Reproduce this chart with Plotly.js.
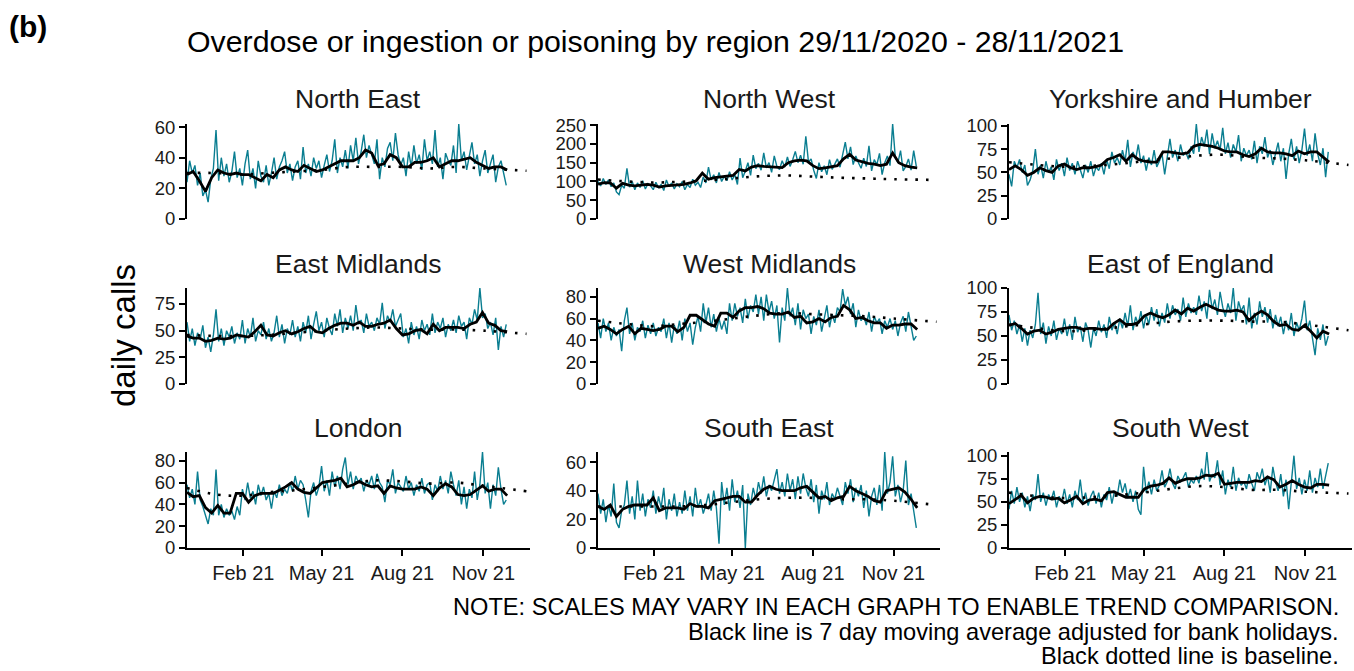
<!DOCTYPE html>
<html>
<head>
<meta charset="utf-8">
<script src="https://cdn.plot.ly/plotly-3.0.1.min.js"></script>
<style>
html, body { margin: 0; padding: 0; background: #ffffff; }
#chart { width: 1354px; height: 671px; }
</style>
</head>
<body>
<div id="chart"></div>
<script>
// ---------------- DATA ----------------
const startDate = '2020-11-29';
const regionNames = ['North East', 'North West', 'Yorkshire and Humber',
  'East Midlands', 'West Midlands', 'East of England',
  'London', 'South East', 'South West'];

const tickDates = ['2021-02-01', '2021-05-01', '2021-08-01', '2021-11-01'];
const tickLabels = ['Feb 21', 'May 21', 'Aug 21', 'Nov 21'];

// baseline reading dates (monthly)
const baseDates = ['2020-11-29', '2021-01-01', '2021-02-01', '2021-03-01', '2021-04-01',
  '2021-05-01', '2021-06-01', '2021-07-01', '2021-08-01', '2021-09-01',
  '2021-10-01', '2021-11-01', '2021-12-20'];

// daily calls, read every 3rd day from 29/11/2020
const neDaily = [24,38,30,35,22,30,15,19,11,26,33,
  58,25,40,28,36,24,31,44,27,33,
  22,36,45,26,33,20,38,28,24,35,
  22,30,40,26,34,38,44,30,36,25,
  34,38,26,47,30,36,28,40,33,38,
  27,35,42,31,38,52,30,40,34,45,
  33,48,38,53,36,44,55,40,48,42,
  36,52,26,40,34,46,50,38,56,42,35,
  40,28,44,34,48,36,42,32,52,38,
  44,36,58,34,40,26,43,38,35,48,
  30,62,38,44,32,40,50,36,42,28,
  38,45,30,36,42,24,34,38,30,22];
const nwDaily = [100,88,108,92,104,86,96,72,65,90,82,
  135,85,100,78,96,84,102,80,94,88,
  78,98,84,92,76,104,86,96,80,94,
  86,100,78,92,84,106,90,98,84,112,
  96,138,104,118,96,124,100,114,102,126,
  104,118,92,162,110,128,150,116,170,134,
  148,130,176,136,150,124,168,140,132,155,
  138,165,140,158,180,150,170,146,220,152,160,
  130,108,150,126,142,118,158,132,146,160,
  138,170,205,160,192,145,168,150,135,162,
  140,195,128,158,145,175,118,150,168,142,
  253,165,150,182,128,140,160,130,182,140];
const yhDaily = [48,35,62,55,64,50,58,36,42,52,75,
  48,58,44,62,50,56,42,64,52,60,
  46,66,52,60,48,62,54,44,58,50,
  62,46,56,52,60,48,64,54,72,60,
  66,58,74,62,85,56,72,64,80,60,
  68,52,66,58,74,56,62,70,48,66,
  86,66,74,62,80,68,72,64,78,70,
  102,72,88,78,96,70,92,76,84,74,98,
  70,82,66,80,72,90,62,76,68,74,
  64,84,60,78,70,88,66,74,58,72,
  82,62,76,43,70,86,64,78,60,74,
  97,68,80,62,92,70,58,76,45,72];
const emDaily = [58,40,52,36,48,42,55,34,44,30,46,
  70,40,52,36,50,44,54,38,48,42,
  60,38,52,44,62,40,50,46,58,42,
  52,40,48,64,44,56,38,52,46,60,
  44,54,40,58,48,64,42,56,68,50,
  58,44,62,52,46,66,54,70,48,62,
  52,64,50,74,56,60,48,66,54,58,
  50,62,56,76,52,64,58,70,54,60,66,
  44,52,38,58,46,54,42,60,50,56,
  46,66,48,58,52,62,44,56,50,60,
  48,64,54,58,42,62,56,70,60,90,
  62,66,52,58,46,62,32,54,44,56];
const wmDaily = [56,42,60,48,56,40,52,44,50,30,58,
  70,46,56,40,52,48,58,42,54,46,
  56,44,52,48,60,42,56,38,54,46,
  58,40,60,48,56,36,52,62,48,74,
  56,70,52,64,48,60,50,58,46,74,
  58,74,62,70,56,78,60,72,66,82,
  64,80,58,82,66,76,60,72,38,70,
  58,88,62,70,54,74,50,68,60,64,46,
  62,54,68,48,60,72,52,64,56,70,
  66,87,72,80,64,74,52,68,58,62,
  54,66,48,62,56,60,46,58,52,60,
  50,58,44,56,62,48,66,52,40,44];
const eeDaily = [72,56,66,52,62,44,58,40,56,48,62,
  95,52,64,42,60,50,66,46,58,52,
  68,50,62,46,70,54,60,44,64,56,
  38,58,50,66,54,62,48,70,56,64,
  52,68,58,74,60,82,56,70,62,76,
  58,72,62,80,66,78,60,74,64,84,
  68,82,72,78,66,90,70,84,74,80,
  72,92,76,86,68,98,78,88,72,96,80,
  70,84,74,100,66,86,76,82,62,90,
  58,74,62,86,70,80,64,78,58,72,
  60,70,52,66,56,74,50,64,56,68,
  87,56,66,48,30,58,46,62,40,50];
const loDaily = [58,46,54,40,70,44,38,30,22,36,30,
  72,30,40,28,36,30,34,26,38,30,
  54,44,60,46,52,40,58,48,56,44,
  50,36,52,46,58,48,54,50,60,52,
  66,54,62,58,44,28,52,60,48,56,
  75,52,62,48,70,56,66,54,72,83,
  58,70,54,66,60,64,52,62,58,66,
  54,68,60,56,42,62,58,72,50,60,56,
  52,66,54,60,48,58,52,64,50,58,
  60,44,58,52,66,54,62,50,70,58,
  48,62,40,56,36,54,46,70,44,58,
  88,50,60,36,58,48,74,54,40,44];
const seDaily = [38,24,34,18,30,22,45,18,14,26,30,
  47,24,36,20,47,26,38,22,34,28,
  40,24,36,28,42,20,34,26,38,22,
  32,24,40,26,36,22,42,28,34,24,
  30,38,26,40,28,3,46,30,42,26,
  48,32,40,28,44,0,38,30,42,34,
  46,38,50,36,44,40,48,55,38,46,
  36,52,40,48,34,50,38,52,42,36,48,
  32,44,24,40,34,46,30,38,34,42,
  36,30,46,38,48,32,42,36,44,28,
  40,22,36,42,30,44,26,67,38,46,
  64,36,44,32,40,61,30,38,26,14];
const swDaily = [42,62,48,66,50,60,44,56,40,58,52,
  80,50,60,46,58,52,62,44,56,50,
  64,48,58,44,62,52,74,50,60,46,
  56,62,48,60,44,58,52,66,48,62,
  56,74,60,70,54,64,50,62,42,36,
  88,60,72,58,74,62,68,84,66,72,
  86,70,64,78,72,76,82,66,74,70,
  78,70,86,74,104,72,80,76,95,68,84,
  58,74,66,88,62,76,68,72,64,80,
  70,62,82,74,86,68,78,60,88,72,
  62,80,56,74,42,70,100,64,76,58,
  74,62,84,60,76,66,86,64,80,92];

// 7 day moving average, read weekly from 29/11/2020
const neAvg = [29,31,25,18,27,32,30,29,30,29,29,27,25,29,27,32,34,32,31,35,33,31,32,34,36,38,38,38,40,45,43,35,36,42,40,34,34,37,37,38,40,34,36,38,38,39,40,37,35,33,34,34,32];
const nwAvg = [93,97,96,82,95,90,88,90,92,90,85,88,89,90,92,96,102,122,106,110,112,113,116,132,128,138,142,140,139,139,137,150,155,157,155,142,134,136,140,142,160,172,157,152,148,146,142,146,176,150,142,138,136];
const yhAvg = [53,57,53,47,50,55,52,50,57,59,55,53,55,55,56,58,64,66,69,62,69,64,62,61,61,72,72,71,70,71,78,80,79,78,76,73,72,72,69,67,70,76,72,71,71,70,68,73,70,72,72,66,61];
const emAvg = [45,43,43,40,41,43,42,43,46,45,44,49,55,46,45,48,50,47,49,52,54,49,48,52,55,57,57,55,58,54,54,56,57,60,52,46,47,50,51,47,56,50,53,53,53,52,56,58,67,57,55,50,49];
const wmAvg = [51,53,50,46,50,53,46,51,50,49,50,53,53,48,52,63,63,59,55,53,65,65,61,67,70,70,71,69,65,64,64,66,61,62,56,57,60,57,61,62,72,68,60,61,58,56,56,51,54,54,55,55,50];
const eeAvg = [61,63,58,52,55,56,52,54,57,58,59,59,57,58,58,57,57,63,67,62,62,64,71,74,71,69,72,77,73,79,76,80,83,80,77,76,76,77,75,66,72,76,72,65,61,62,57,56,61,55,48,55,52];
const loAvg = [51,47,48,37,32,39,32,32,50,50,42,48,50,50,50,53,56,60,54,51,50,55,60,61,62,64,56,58,61,58,56,57,50,57,55,54,54,54,56,54,48,55,59,56,49,48,49,53,57,52,54,54,48];
const seAvg = [29,27,30,22,27,29,30,30,30,35,26,28,28,28,27,31,29,29,28,33,34,35,36,36,32,32,37,41,43,41,40,40,40,42,43,39,35,36,33,35,36,43,40,38,36,33,32,40,41,42,39,34,28];
const swAvg = [48,53,57,49,54,56,55,53,54,49,52,56,48,52,53,51,60,61,58,55,55,55,64,67,68,70,76,70,73,75,75,76,79,78,81,69,70,71,71,71,73,72,77,74,66,69,73,69,66,65,69,69,68];

// baseline
const neBase = [30,30,29,30,31,32,34,34,34,33,34,33,31.5];
const nwBase = [105,100,97,99,102,108,114,116,113,110,108,106,104];
const yhBase = [61,58,56,57,59,62,65,68,69,66,65,63,58];
const emBase = [46,45,45,46,48,50,52,53,52,51,51,50,47];
const wmBase = [58,55,53,55,57,60,63,65,64,63,62,60,57];
const eeBase = [62,58,55,56,59,62,65,66,66,65,65,62,56];
const loBase = [55,49,48,51,53,56,59,62,61,59,60,57,52];
const seBase = [29,29,29,29,30,32,34,35,35,34,34,33,30];
const swBase = [60,56,54,55,57,60,64,67,66,63,63,61,59];

// ---------------- BUILD ----------------
function dateSeq(start, stepDays, n) {
  const out = [];
  const t0 = Date.parse(start + 'T00:00:00Z');
  for (let i = 0; i < n; i++) {
    out.push(new Date(t0 + i * stepDays * 86400000).toISOString().slice(0, 10));
  }
  return out;
}
const dailyDates = dateSeq(startDate, 3, neDaily.length);
const weeklyDates = dateSeq(startDate, 7, neAvg.length);

const panels = [
  { daily: neDaily, avg: neAvg, base: neBase, dtick: 20 },
  { daily: nwDaily, avg: nwAvg, base: nwBase, dtick: 50 },
  { daily: yhDaily, avg: yhAvg, base: yhBase, dtick: 25 },
  { daily: emDaily, avg: emAvg, base: emBase, dtick: 25 },
  { daily: wmDaily, avg: wmAvg, base: wmBase, dtick: 20 },
  { daily: eeDaily, avg: eeAvg, base: eeBase, dtick: 25 },
  { daily: loDaily, avg: loAvg, base: loBase, dtick: 20 },
  { daily: seDaily, avg: seAvg, base: seBase, dtick: 20 },
  { daily: swDaily, avg: swAvg, base: swBase, dtick: 25 }
];

const W = 1354, H = 671;
const colsPx = [[187, 530], [598, 940], [1009, 1352]];
const rowsPx = [[124, 219], [288, 384], [452, 548]];
const titleY = [99, 264, 428];
const FONT = 'Liberation Sans, Arial, sans-serif';

const traces = [];
const layout = {
  width: W, height: H,
  margin: { l: 0, r: 0, t: 0, b: 0 },
  paper_bgcolor: '#ffffff',
  plot_bgcolor: 'rgba(0,0,0,0)',
  showlegend: false,
  font: { family: FONT, color: '#000000' },
  title: {
    text: 'Overdose or ingestion or poisoning by region 29/11/2020 - 28/11/2021',
    x: 187 / W, xanchor: 'left', xref: 'paper',
    y: 1 - 41 / H, yanchor: 'middle', yref: 'container',
    font: { family: FONT, size: 30.3, color: '#000000' }
  },
  annotations: [],
  hovermode: false
};

panels.forEach((p, k) => {
  const r = Math.floor(k / 3), c = k % 3;
  const n = k + 1;
  const xa = 'x' + (n === 1 ? '' : n), ya = 'y' + (n === 1 ? '' : n);
  const xKey = 'xaxis' + (n === 1 ? '' : n), yKey = 'yaxis' + (n === 1 ? '' : n);
  traces.push({
    x: dailyDates, y: p.daily, type: 'scatter', mode: 'lines',
    line: { color: '#0a7e91', width: 1.4 }, xaxis: xa, yaxis: ya, hoverinfo: 'skip'
  });
  traces.push({
    x: baseDates, y: p.base, type: 'scatter', mode: 'lines',
    line: { color: '#000000', width: 2.6, dash: '2.6px,8px', shape: 'spline' },
    xaxis: xa, yaxis: ya, hoverinfo: 'skip'
  });
  traces.push({
    x: weeklyDates, y: p.avg, type: 'scatter', mode: 'lines',
    line: { color: '#000000', width: 2.8 }, xaxis: xa, yaxis: ya, hoverinfo: 'skip'
  });
  const bottom = r === 2;
  layout[xKey] = {
    domain: [colsPx[c][0] / W, colsPx[c][1] / W],
    anchor: ya, type: 'date',
    range: ['2020-11-29', '2021-12-24'],
    showgrid: false, zeroline: false,
    showline: bottom, linecolor: '#000000', linewidth: 2,
    ticks: bottom ? 'outside' : '', ticklen: 6, tickwidth: 2, tickcolor: '#000000',
    tickmode: 'array', tickvals: tickDates, ticktext: tickLabels,
    showticklabels: bottom,
    tickfont: { family: FONT, size: 20, color: '#1a1a1a' }
  };
  const ymax = Math.max.apply(null, p.daily);
  layout[yKey] = {
    domain: [1 - rowsPx[r][1] / H, 1 - rowsPx[r][0] / H],
    anchor: xa, range: [0, ymax],
    showgrid: false, zeroline: false,
    showline: true, linecolor: '#000000', linewidth: 2,
    ticks: 'outside', ticklen: 6, tickwidth: 2, tickcolor: '#000000',
    tick0: 0, dtick: p.dtick,
    tickfont: { family: FONT, size: 18.5, color: '#1a1a1a' }
  };
  layout.annotations.push({
    text: regionNames[k], xref: 'paper', yref: 'paper',
    x: (colsPx[c][0] + colsPx[c][1]) / 2 / W, y: 1 - titleY[r] / H,
    xanchor: 'center', yanchor: 'middle', showarrow: false,
    font: { family: FONT, size: 26.5, color: '#1a1a1a' }
  });
});

layout.annotations.push({
  text: '<b>(b)</b>', xref: 'paper', yref: 'paper',
  x: 7 / W, y: 1 - 26 / H, xanchor: 'left', yanchor: 'middle', showarrow: false,
  font: { family: FONT, size: 30, color: '#000000' }
});
layout.annotations.push({
  text: 'daily calls', xref: 'paper', yref: 'paper', textangle: -90,
  x: 123 / W, y: 1 - 336 / H, xanchor: 'center', yanchor: 'middle', showarrow: false,
  font: { family: FONT, size: 33, color: '#000000' }
});
const notes = ['NOTE: SCALES MAY VARY IN EACH GRAPH TO ENABLE TREND COMPARISON.',
  'Black line is 7 day moving average adjusted for bank holidays.',
  'Black dotted line is baseline.'];
const noteY = [607, 632, 656];
notes.forEach((t, i) => {
  layout.annotations.push({
    text: t, xref: 'paper', yref: 'paper',
    x: 1341 / W, y: 1 - noteY[i] / H, xanchor: 'right', yanchor: 'middle', showarrow: false,
    font: { family: FONT, size: 23.6, color: '#000000' }
  });
});

Plotly.newPlot('chart', traces, layout, { staticPlot: true, displayModeBar: false });
</script>
</body>
</html>
